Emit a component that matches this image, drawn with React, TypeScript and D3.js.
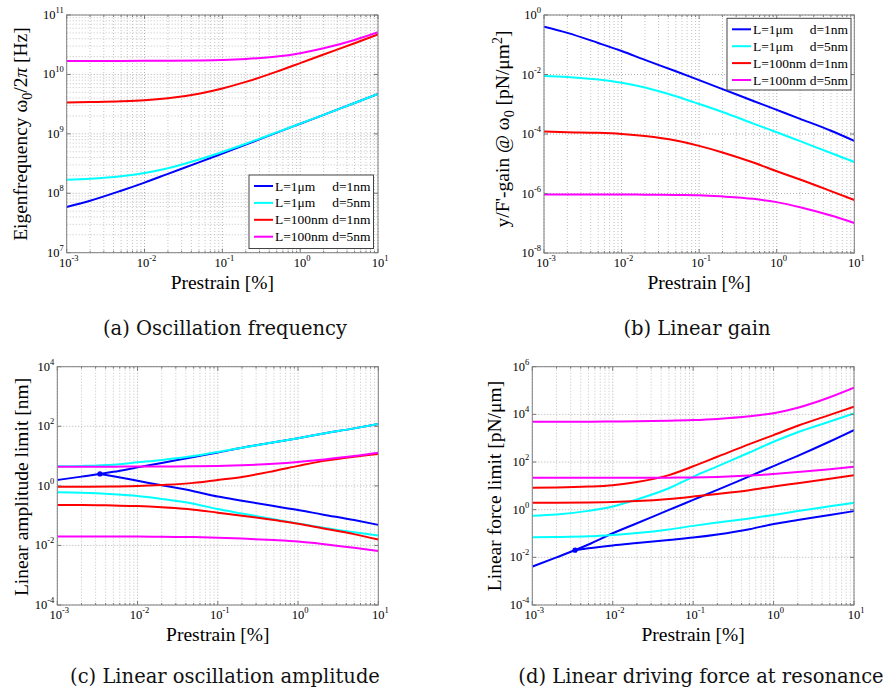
import React from 'react';
import * as d3 from 'd3';

// Shared prestrain sample points [%]
const prestrain = [0.001, 0.002, 0.005, 0.01, 0.02, 0.05, 0.1, 0.2, 0.5, 1, 2, 5, 10];
// Second (lower) branch of the blue curve in (c)/(d), starts at the marked point
const prestrainBranch = [0.0034, 0.005, 0.01, 0.02, 0.05, 0.1, 0.2, 0.5, 1, 2, 5, 10];

const legendL = ['L=1\u03bcm', 'L=1\u03bcm', 'L=100nm', 'L=100nm'];
const legendD = ['d=1nm', 'd=5nm', 'd=1nm', 'd=5nm'];
const colors = ['#0000ff', '#00ffff', '#ff0000', '#ff00ff'];

// (a) eigenfrequency, log10 [Hz]
const freqBlue = [7.77, 7.875, 8.043, 8.18, 8.327, 8.52, 8.67, 8.82, 9.02, 9.17, 9.32, 9.52, 9.67];
const freqCyan = [8.227, 8.243, 8.285, 8.34, 8.42, 8.567, 8.695, 8.833, 9.025, 9.173, 9.32, 9.52, 9.67];
const freqRed = [9.526, 9.534, 9.547, 9.565, 9.599, 9.676, 9.764, 9.874, 10.047, 10.19, 10.335, 10.525, 10.675];
const freqMagenta = [10.227, 10.227, 10.228, 10.229, 10.231, 10.236, 10.244, 10.26, 10.3, 10.358, 10.44, 10.58, 10.71];

// (b) gain, log10 [pN/um^2]
const gainBlue = [-0.393, -0.6, -0.94, -1.21, -1.51, -1.89, -2.19, -2.49, -2.89, -3.19, -3.49, -3.89, -4.23];
const gainCyan = [-2.05, -2.08, -2.17, -2.28, -2.44, -2.73, -2.99, -3.26, -3.65, -3.94, -4.24, -4.64, -4.94];
const gainRed = [-3.92, -3.94, -3.96, -4.0, -4.07, -4.22, -4.4, -4.62, -4.96, -5.25, -5.53, -5.92, -6.22];
const gainMagenta = [-6.03, -6.03, -6.03, -6.03, -6.04, -6.05, -6.06, -6.1, -6.18, -6.29, -6.46, -6.74, -6.99];

// (c) amplitude limit, log10 [nm]
const ampBlueUpper = [0.197, 0.31, 0.47, 0.62, 0.77, 0.97, 1.12, 1.28, 1.46, 1.6, 1.75, 1.93, 2.08];
const ampBlueLower = [0.4, 0.32, 0.17, 0.02, -0.18, -0.36, -0.5, -0.68, -0.81, -0.96, -1.15, -1.31];
const ampCyanUpper = [0.66, 0.67, 0.71, 0.79, 0.87, 1.0, 1.14, 1.28, 1.46, 1.6, 1.75, 1.93, 2.08];
const ampCyanLower = [-0.217, -0.23, -0.28, -0.34, -0.44, -0.6, -0.78, -0.93, -1.12, -1.26, -1.4, -1.56, -1.67];
const ampRedUpper = [-0.03, -0.03, -0.02, -0.005, 0.03, 0.1, 0.2, 0.3, 0.5, 0.67, 0.83, 0.98, 1.07];
const ampRedLower = [-0.64, -0.64, -0.66, -0.68, -0.72, -0.8, -0.9, -1.0, -1.15, -1.27, -1.42, -1.62, -1.8];
const ampMagentaUpper = [0.644, 0.644, 0.645, 0.646, 0.648, 0.655, 0.67, 0.69, 0.74, 0.8, 0.88, 1.0, 1.11];
const ampMagentaLower = [-1.7, -1.7, -1.7, -1.7, -1.71, -1.72, -1.74, -1.77, -1.82, -1.87, -1.95, -2.08, -2.19];
const ampDot = [0.0034, 0.4];

// (d) force limit, log10 [pN/um]
const forceBlueUpper = [-2.39, -2.0, -1.46, -0.99, -0.57, -0.01, 0.41, 0.83, 1.4, 1.83, 2.26, 2.86, 3.34];
const forceBlueLower = [-1.7, -1.62, -1.5, -1.4, -1.27, -1.17, -1.04, -0.82, -0.6, -0.43, -0.22, -0.06];
const forceCyanUpper = [-0.25, -0.2, -0.05, 0.13, 0.43, 0.9, 1.38, 1.82, 2.4, 2.85, 3.25, 3.7, 4.04];
const forceCyanLower = [-1.16, -1.15, -1.12, -1.06, -0.98, -0.83, -0.68, -0.54, -0.37, -0.22, -0.06, 0.14, 0.29];
const forceRedUpper = [0.92, 0.93, 0.97, 1.03, 1.16, 1.45, 1.82, 2.22, 2.75, 3.13, 3.52, 3.98, 4.32];
const forceRedLower = [0.29, 0.29, 0.3, 0.32, 0.36, 0.45, 0.55, 0.66, 0.82, 0.97, 1.11, 1.3, 1.44];
const forceMagentaUpper = [3.69, 3.69, 3.69, 3.7, 3.71, 3.73, 3.76, 3.81, 3.92, 4.05, 4.28, 4.72, 5.12];
const forceMagentaLower = [1.34, 1.34, 1.34, 1.34, 1.34, 1.345, 1.35, 1.37, 1.43, 1.5, 1.58, 1.7, 1.8];
const forceDot = [0.0034, -1.7];

const xTickExps = [-3, -2, -1, 0, 1];

const SERIF = "'Liberation Serif', 'Times New Roman', serif";
const CAPTION = "'DejaVu Serif', serif";

type Series = { xs: number[]; ys: number[]; color: string };

type PanelProps = {
  x0: number; x1: number; y0: number; y1: number;
  yMin: number; yMax: number; yStep: number; yMinorGrid: boolean;
  series: Series[];
  dot?: number[];
  legend?: { x: number; y: number; w: number; h: number };
  ylabel: React.ReactNode;
  ylabelPos: [number, number];
};

function Label10({ x, y, e, anchor, size = 12.5 }: { x: number; y: number; e: number; anchor: string; size?: number }) {
  return (
    <text x={x} y={y} textAnchor={anchor as any} fontFamily={SERIF} fontSize={size} fill="#000">
      10<tspan dy={-6} fontSize={8.5}>{String(e)}</tspan>
    </text>
  );
}

function Panel(p: PanelProps) {
  const xs = d3.scaleLog().domain([1e-3, 10]).range([p.x0, p.x1]);
  const ys = d3.scaleLog().domain([Math.pow(10, p.yMin), Math.pow(10, p.yMax)]).range([p.y1, p.y0]);
  const line = d3.line<[number, number]>().x(d => xs(d[0])).y(d => ys(Math.pow(10, d[1]))).curve(d3.curveMonotoneX);

  const xMinor: number[] = [];
  for (let e = -3; e < 1; e++) for (let k = 2; k <= 9; k++) xMinor.push(k * Math.pow(10, e));
  const yMajor: number[] = [];
  for (let e = p.yMin; e <= p.yMax + 1e-9; e += p.yStep) yMajor.push(e);
  const yMinor: number[] = [];
  if (p.yMinorGrid) for (let e = p.yMin; e < p.yMax; e++) for (let k = 2; k <= 9; k++) yMinor.push(k * Math.pow(10, e));
  const yAllDecades: number[] = [];
  for (let e = p.yMin; e <= p.yMax; e++) yAllDecades.push(e);

  const gridC = '#c4c4c4';
  const clipId = `clip-${Math.round(p.x0)}-${Math.round(p.y0)}`;
  return (
    <g>
      <defs>
        <clipPath id={clipId}><rect x={p.x0} y={p.y0} width={p.x1 - p.x0} height={p.y1 - p.y0} /></clipPath>
      </defs>
      <rect x={p.x0} y={p.y0} width={p.x1 - p.x0} height={p.y1 - p.y0} fill="#fff" />
      {/* grid */}
      {xMinor.map((v, i) => (
        <line key={'xm' + i} x1={xs(v)} x2={xs(v)} y1={p.y0} y2={p.y1} stroke={gridC} strokeWidth={1} strokeDasharray="1,2" />
      ))}
      {xTickExps.map(e => (
        <line key={'xM' + e} x1={xs(Math.pow(10, e))} x2={xs(Math.pow(10, e))} y1={p.y0} y2={p.y1} stroke="#b0b0b0" strokeWidth={1} strokeDasharray="1,2" />
      ))}
      {yMinor.map((v, i) => (
        <line key={'ym' + i} x1={p.x0} x2={p.x1} y1={ys(v)} y2={ys(v)} stroke={gridC} strokeWidth={1} strokeDasharray="1,2" />
      ))}
      {(p.yMinorGrid ? yAllDecades : yMajor).map(e => (
        <line key={'yM' + e} x1={p.x0} x2={p.x1} y1={ys(Math.pow(10, e))} y2={ys(Math.pow(10, e))} stroke="#b0b0b0" strokeWidth={1} strokeDasharray="1,2" />
      ))}
      {/* curves */}
      <g clipPath={`url(#${clipId})`}>
        {p.series.map((s, i) => (
          <path key={i} d={line(s.xs.map((x, j) => [x, s.ys[j]] as [number, number])) || ''} fill="none" stroke={s.color} strokeWidth={2} />
        ))}
        {p.dot && <circle cx={xs(p.dot[0])} cy={ys(Math.pow(10, p.dot[1]))} r={2.6} fill="#0000ff" />}
      </g>
      {/* ticks */}
      {xTickExps.map(e => (
        <g key={'xt' + e}>
          <line x1={xs(Math.pow(10, e))} x2={xs(Math.pow(10, e))} y1={p.y1} y2={p.y1 - 4} stroke="#777" />
          <line x1={xs(Math.pow(10, e))} x2={xs(Math.pow(10, e))} y1={p.y0} y2={p.y0 + 4} stroke="#777" />
        </g>
      ))}
      {xMinor.map((v, i) => (
        <g key={'xmt' + i}>
          <line x1={xs(v)} x2={xs(v)} y1={p.y1} y2={p.y1 - 2} stroke="#777" />
          <line x1={xs(v)} x2={xs(v)} y1={p.y0} y2={p.y0 + 2} stroke="#777" />
        </g>
      ))}
      {yMajor.map(e => (
        <g key={'yt' + e}>
          <line x1={p.x0} x2={p.x0 + 4} y1={ys(Math.pow(10, e))} y2={ys(Math.pow(10, e))} stroke="#777" />
          <line x1={p.x1} x2={p.x1 - 4} y1={ys(Math.pow(10, e))} y2={ys(Math.pow(10, e))} stroke="#777" />
        </g>
      ))}
      <rect x={p.x0} y={p.y0} width={p.x1 - p.x0} height={p.y1 - p.y0} fill="none" stroke="#808080" strokeWidth={1} />
      {/* tick labels */}
      {xTickExps.map(e => (
        <Label10 key={'xl' + e} x={xs(Math.pow(10, e)) + 2} y={p.y1 + 14} e={e} anchor="middle" />
      ))}
      {yMajor.map(e => (
        <Label10 key={'yl' + e} x={p.x0 - 3} y={ys(Math.pow(10, e)) + 4} e={e} anchor="end" />
      ))}
      {/* axis labels */}
      <text x={(p.x0 + p.x1) / 2} y={p.y1 + 36} textAnchor="middle" fontFamily={SERIF} fontSize={19.5} fill="#000">Prestrain [%]</text>
      <text transform={`translate(${p.ylabelPos[0]},${p.ylabelPos[1]}) rotate(-90)`} textAnchor="middle" fontFamily={SERIF} fontSize={19.5} fill="#000">{p.ylabel}</text>
      {/* legend */}
      {p.legend && (
        <g>
          <rect x={p.legend.x} y={p.legend.y} width={p.legend.w} height={p.legend.h} fill="#fff" stroke="#444" strokeWidth={1} />
          {legendL.map((t, i) => {
            const cy = p.legend!.y + 11 + i * 16.9;
            return (
              <g key={'lg' + i}>
                <line x1={p.legend!.x + 5} x2={p.legend!.x + 24} y1={cy} y2={cy} stroke={colors[i]} strokeWidth={2} />
                <text x={p.legend!.x + 26} y={cy + 4.5} fontFamily={SERIF} fontSize={13.5} fill="#000">{t}</text>
                <text x={p.legend!.x + p.legend!.w - 3} y={cy + 4.5} textAnchor="end" fontFamily={SERIF} fontSize={13.5} fill="#000">{legendD[i]}</text>
              </g>
            );
          })}
        </g>
      )}
    </g>
  );
}

export default function App() {
  const four = (a: number[], b: number[], c: number[], d: number[]): Series[] => [
    { xs: prestrain, ys: a, color: colors[0] },
    { xs: prestrain, ys: b, color: colors[1] },
    { xs: prestrain, ys: c, color: colors[2] },
    { xs: prestrain, ys: d, color: colors[3] },
  ];
  return (
    <svg width={883} height={695} style={{ position: 'absolute', left: 0, top: 0, background: '#fff' }}>
      <rect x={0} y={0} width={883} height={695} fill="#fff" />
      <Panel
        x0={66.7} x1={378} y0={15} y1={252.7} yMin={7} yMax={11} yStep={1} yMinorGrid={true}
        series={four(freqBlue, freqCyan, freqRed, freqMagenta)}
        legend={{ x: 249, y: 175, w: 124.5, h: 73.5 }}
        ylabelPos={[27, 134]}
        ylabel={<>Eigenfrequency ω<tspan dy={5} fontSize={14}>0</tspan><tspan dy={-5}>/2</tspan><tspan fontStyle="italic">π</tspan> [Hz]</>}
      />
      <Panel
        x0={544} x1={854.3} y0={15} y1={253} yMin={-8} yMax={0} yStep={2} yMinorGrid={false}
        series={four(gainBlue, gainCyan, gainRed, gainMagenta)}
        legend={{ x: 727, y: 18.3, w: 124, h: 71.7 }}
        ylabelPos={[509, 129]}
        ylabel={<>y/F'-gain @ ω<tspan dy={5} fontSize={14}>0</tspan><tspan dy={-5}> [pN/μm</tspan><tspan dy={-7} fontSize={14}>2</tspan><tspan dy={7}>]</tspan></>}
      />
      <Panel
        x0={57.3} x1={378.3} y0={366.7} y1={605} yMin={-4} yMax={4} yStep={2} yMinorGrid={false}
        series={[
          { xs: prestrain, ys: ampBlueUpper, color: colors[0] },
          { xs: prestrainBranch, ys: ampBlueLower, color: colors[0] },
          { xs: prestrain, ys: ampCyanUpper, color: colors[1] },
          { xs: prestrain, ys: ampCyanLower, color: colors[1] },
          { xs: prestrain, ys: ampRedUpper, color: colors[2] },
          { xs: prestrain, ys: ampRedLower, color: colors[2] },
          { xs: prestrain, ys: ampMagentaUpper, color: colors[3] },
          { xs: prestrain, ys: ampMagentaLower, color: colors[3] },
        ]}
        dot={ampDot}
        ylabelPos={[28, 487]}
        ylabel={<>Linear amplitude limit [nm]</>}
      />
      <Panel
        x0={532.3} x1={854} y0={366.7} y1={605} yMin={-4} yMax={6} yStep={2} yMinorGrid={false}
        series={[
          { xs: prestrain, ys: forceBlueUpper, color: colors[0] },
          { xs: prestrainBranch, ys: forceBlueLower, color: colors[0] },
          { xs: prestrain, ys: forceCyanUpper, color: colors[1] },
          { xs: prestrain, ys: forceCyanLower, color: colors[1] },
          { xs: prestrain, ys: forceRedUpper, color: colors[2] },
          { xs: prestrain, ys: forceRedLower, color: colors[2] },
          { xs: prestrain, ys: forceMagentaUpper, color: colors[3] },
          { xs: prestrain, ys: forceMagentaLower, color: colors[3] },
        ]}
        dot={forceDot}
        ylabelPos={[501, 486]}
        ylabel={<>Linear force limit [pN/μm]</>}
      />
      <text x={225} y={335} textAnchor="middle" fontFamily={CAPTION} fontSize={19.5} fill="#111">(a) Oscillation frequency</text>
      <text x={697} y={335} textAnchor="middle" fontFamily={CAPTION} fontSize={19.5} fill="#111">(b) Linear gain</text>
      <text x={225} y={683} textAnchor="middle" fontFamily={CAPTION} fontSize={19.5} fill="#111">(c) Linear oscillation amplitude</text>
      <text x={701} y={683} textAnchor="middle" fontFamily={CAPTION} fontSize={19.5} fill="#111">(d) Linear driving force at resonance</text>
    </svg>
  );
}
